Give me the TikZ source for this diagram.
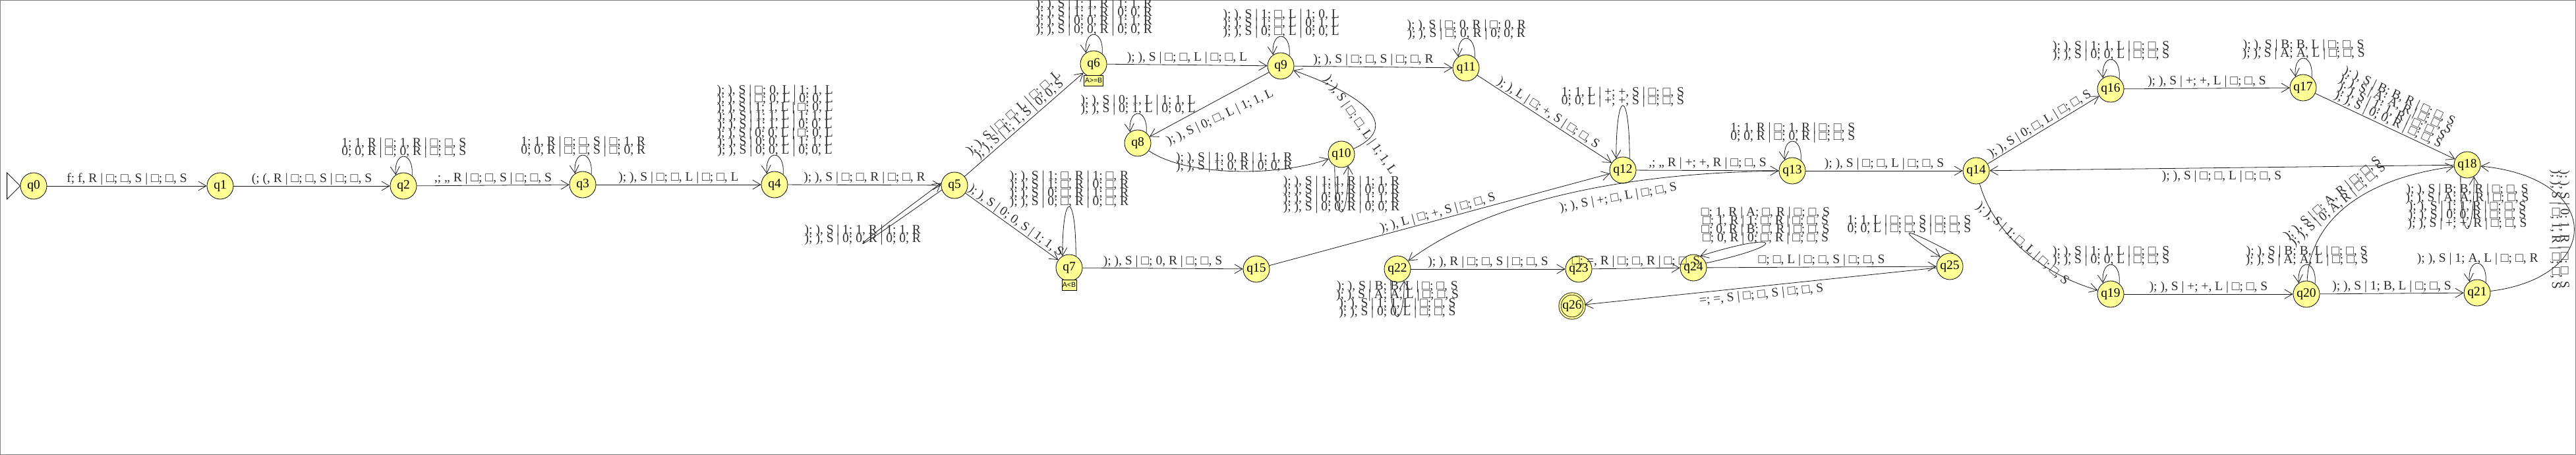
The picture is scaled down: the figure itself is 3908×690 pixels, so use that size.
\documentclass[tikz,border=0pt]{standalone}
\usepackage{fontspec}
\setmainfont{Liberation Serif}
\setsansfont{Liberation Sans}
\usetikzlibrary{arrows.meta}
\definecolor{stfill}{RGB}{255,255,150}
\definecolor{ink}{RGB}{45,45,45}

\begin{document}
\begin{tikzpicture}[x=1pt, y=-1pt,
    state/.style={circle, draw=black, line width=0.8pt, fill=stfill, minimum size=40pt,
      inner sep=0pt, font=\fontsize{19.5}{20}\selectfont},
    trans/.style={draw=black!90, line width=0.8pt,
      -{Straight Barb[length=12pt, width=14pt, line width=0.8pt]}},
    lbl/.style={font={\fontsize{19.5}{13}\selectfont\lineskiplimit=-100pt}, text=ink,
      inner sep=0pt, align=center},
    cond/.style={draw, line width=0.8pt, fill=stfill, inner sep=1pt, minimum height=16pt,
      font=\sffamily\fontsize{10.5}{11}\selectfont}]
\useasboundingbox (0,0) rectangle (3908,690);
\draw[gray, line width=1.2pt] (0.6,0.6) rectangle (3907.4,689.4);

% states
\node[state] (q0) at (51,282) {q0};
\node[state] (q1) at (334,282) {q1};
\node[state] (q2) at (612,282) {q2};
\node[state] (q3) at (884,280) {q3};
\node[state] (q4) at (1175,280) {q4};
\node[state] (q5) at (1448,281) {q5};
\node[state] (q6) at (1659,97) {q6};
\node[state] (q7) at (1622,406) {q7};
\node[state] (q8) at (1726,217) {q8};
\node[state] (q9) at (1943,100) {q9};
\node[state] (q10) at (2035,234) {q10};
\node[state] (q11) at (2224,103) {q11};
\node[state] (q12) at (2462,258) {q12};
\node[state] (q13) at (2719,259) {q13};
\node[state] (q14) at (2998,259) {q14};
\node[state] (q15) at (1906,408) {q15};
\node[state] (q16) at (3202,135) {q16};
\node[state] (q17) at (3494,133) {q17};
\node[state] (q18) at (3743,250) {q18};
\node[state] (q19) at (3202,446) {q19};
\node[state] (q20) at (3499,446) {q20};
\node[state] (q21) at (3758,444) {q21};
\node[state] (q22) at (2120,408) {q22};
\node[state] (q23) at (2395,408) {q23};
\node[state] (q24) at (2569,406) {q24};
\node[state] (q25) at (2958,404) {q25};
\node[state, double=stfill, double distance=2.5pt, minimum size=37pt] (q26) at (2385,464) {q26};

\node[cond] (c6) at (1659,122) {A>=B};
\node[cond] (c7) at (1622,432) {A<B};

% start marker
\draw[line width=0.8pt, fill=white] (q0.west) -- ++(-20,-20) -- ++(0,40) -- cycle;

% transitions
\draw[trans] (q0) -- node[lbl, above=1pt] (e0) {f; f, R | □; □, S | □; □, S} (q1);
\draw[trans] (q1) -- node[lbl, above=1pt] (e1) {(; (, R | □; □, S | □; □, S} (q2);
\draw[trans] (q2.50) .. controls +(3,-38) and +(-3,-38) .. node[lbl, above=-3pt] (e2)
  {1; 1, R | □; 1, R | □; □, S\\0; 0, R | □; 0, R | □; □, S} (q2.125);
\draw[trans] (q2) -- node[lbl, above=1pt] (e3) {,; ,, R | □; □, S | □; □, S} (q3);
\draw[trans] (q3.50) .. controls +(3,-38) and +(-3,-38) .. node[lbl, above=-3pt] (e4)
  {1; 1, R | □; □, S | □; 1, R\\0; 0, R | □; □, S | □; 0, R} (q3.125);
\draw[trans] (q3) -- node[lbl, above=1pt] (e5) {); ), S | □; □, L | □; □, L} (q4);
\draw[trans] (q4.50) .. controls +(3,-38) and +(-3,-38) .. node[lbl, above=-3pt] (e6)
  {); ), S | □; 0, L | 1; 1, L\\); ), S | □; 0, L | 0; 0, L\\); ), S | 1; 1, L | □; 0, L\\%
   ); ), S | 1; 1, L | 1; 1, L\\); ), S | 1; 1, L | 0; 0, L\\); ), S | 0; 0, L | □; 0, L\\%
   ); ), S | 0; 0, L | 1; 1, L\\); ), S | 0; 0, L | 0; 0, L} (q4.125);
\draw[trans] (q4) -- node[lbl, above=1pt] (e7) {); ), S | □; □, R | □; □, R} (q5);
\draw[trans] (q5.200) .. controls (1270,400) and (1268,396) .. node[lbl, above=-3pt] (e8)
  {); ), S | 1; 1, R | 1; 1, R\\); ), S | 0; 0, R | 0; 0, R} (q5.170);
\draw[trans] (q5) -- node[lbl, sloped, above=1pt] (e9)
  {); ), S | □; □, L | □; □, L\\); ), S | 1; 1, S | 0; 0, S} (q6);
\draw[trans] (q5) -- node[lbl, sloped, above=1pt] (e10) {); ), S | 0; 0, S | 1; 1, S} (q7);
\draw[trans] (q6.50) .. controls +(3,-38) and +(-3,-38) .. node[lbl, above=-3pt] (e11)
  {); ), S | 1; 1, R | 1; 1, R\\); ), S | 1; 1, R | 0; 0, R\\); ), S | 0; 0, R | 1; 1, R\\); ), S | 0; 0, R | 0; 0, R} (q6.125);
\draw[trans] (q7.60) .. controls +(0,-100) and +(0,-100) .. node[lbl, above=-3pt] (e12)
  {); ), S | 1; □, R | 1; □, R\\); ), S | 1; □, R | 0; □, R\\); ), S | 0; □, R | 1; □, R\\); ), S | 0; □, R | 0; □, R} (q7.120);
\draw[trans] (q6) -- node[lbl, above=1pt] (e13) {); ), S | □; □, L | □; □, L} (q9);
\draw[trans] (q7) -- node[lbl, above=1pt] (e14) {); ), S | □; 0, R | □; □, S} (q15);
\draw[trans] (q9.50) .. controls +(3,-38) and +(-3,-38) .. node[lbl, above=-3pt] (e15)
  {); ), S | 1; □, L | 1; 0, L\\); ), S | 1; □, L | 0; 1, L\\); ), S | 0; □, L | 0; 0, L} (q9.125);
\draw[trans] (q9) -- (q8);
\node[lbl, rotate=25] (e16) at (1851,178) {); ), S | 0; □, L | 1; 1, L};
\draw[trans] (q8.50) .. controls +(3,-38) and +(-3,-38) .. node[lbl, above=-3pt] (e17)
  {); ), S | 0; 1, L | 1; 1, L\\); ), S | 0; 1, L | 0; 0, L} (q8.125);
\draw[trans] (q8) .. controls (1800,268) and (1940,268) .. node[lbl, above=-2pt] (e18)
  {); ), S | 1; 0, R | 1; 1, R\\); ), S | 1; 0, R | 0; 0, R} (q10);
\draw[trans] (q10) .. controls (2120,195) and (2085,150) .. (q9);
\node[lbl, rotate=-55] (e19) at (2063,190) {); ), S | □; □, L | 1; 1, L};
\draw[trans] (q10.-120) .. controls +(0,93) and +(0,93) .. node[lbl, above=-3pt] (e20)
  {); ), S | 1; 1, R | 1; 1, R\\); ), S | 1; 1, R | 0; 0, R\\); ), S | 0; 0, R | 1; 1, R\\); ), S | 0; 0, R | 0; 0, R} (q10.-60);
\draw[trans] (q9) -- node[lbl, above=1pt] (e21) {); ), S | □; □, S | □; □, R} (q11);
\draw[trans] (q11.50) .. controls +(3,-38) and +(-3,-38) .. node[lbl, above=-3pt] (e22)
  {); ), S | □; 0, R | □; 0, R\\); ), S | □; 0, R | 0; 0, R} (q11.125);
\draw[trans] (q11) -- node[lbl, sloped, above=1pt] (e23) {); ), L | □; +, S | □; □, S} (q12);
\draw[trans] (q15) -- node[lbl, sloped, above=1pt] (e24) {); ), L | □; +, S | □; □, S} (q12);
\draw[trans] (q12.60) .. controls +(0,-107) and +(0,-107) .. node[lbl, above=-3pt] (e25)
  {1; 1, L | +; +, S | □; □, S\\0; 0, L | +; +, S | □; □, S} (q12.120);
\draw[trans] (q12) -- node[lbl, above=1pt] (e26) {,; ,, R | +; +, R | □; □, S} (q13);
\draw[trans] (q13.50) .. controls +(3,-38) and +(-3,-38) .. node[lbl, above=-3pt] (e27)
  {1; 1, R | □; 1, R | □; □, S\\0; 0, R | □; 0, R | □; □, S} (q13.125);
\draw[trans] (q13) .. controls (2450,262) and (2250,310) .. (q22);
\node[lbl, rotate=10] (e28) at (2455,300) {); ), S | +; □, L | □; □, S};
\draw[trans] (q13) -- node[lbl, above=1pt] (e29) {); ), S | □; □, L | □; □, S} (q14);
\draw[trans] (q14) -- node[lbl, sloped, above=1pt] (e30) {); ), S | 0; □, L | □; □, S} (q16);
\draw[trans] (q16.50) .. controls +(3,-38) and +(-3,-38) .. node[lbl, above=-3pt] (e31)
  {); ), S | 1; 1, L | □; □, S\\); ), S | 0; 0, L | □; □, S} (q16.125);
\draw[trans] (q16) -- node[lbl, above=1pt] (e32) {); ), S | +; +, L | □; □, S} (q17);
\draw[trans] (q17.50) .. controls +(3,-38) and +(-3,-38) .. node[lbl, above=-3pt] (e33)
  {); ), S | B; B, L | □; □, S\\); ), S | A; A, L | □; □, S} (q17.125);
\draw[trans] (q17) -- node[lbl, sloped, above=1pt] (e34)
  {); ), S | B; B, R | □; □, S\\); ), S | A; A, R | □; □, S\\); ), S | 1; 1, R | □; □, S\\); ), S | 0; 0, R | □; □, S} (q18);
\draw[trans] (q18) -- node[lbl, below=4pt] (e35) {); ), S | □; □, L | □; □, S} (q14);
\draw[trans] (q18.-120) .. controls +(0,105) and +(0,105) .. node[lbl, above=-3pt] (e36)
  {); ), S | B; B, R | □; □, S\\); ), S | A; A, R | □; □, S\\); ), S | 1; 1, R | □; □, S\\); ), S | 0; 0, R | □; □, S\\); ), S | +; +, R | □; □, S} (q18.-60);
\draw[trans] (q14) .. controls (3020,340) and (3080,410) .. (q19);
\node[lbl, rotate=-41] (e37) at (3068,370) {); ), S | 1; □, L | □; □, S};
\draw[trans] (q19.50) .. controls +(3,-38) and +(-3,-38) .. node[lbl, above=-3pt] (e38)
  {); ), S | 1; 1, L | □; □, S\\); ), S | 0; 0, L | □; □, S} (q19.125);
\draw[trans] (q19) -- node[lbl, above=1pt] (e39) {); ), S | +; +, L | □; □, S} (q20);
\draw[trans] (q20.50) .. controls +(3,-38) and +(-3,-38) .. node[lbl, above=-3pt] (e40)
  {); ), S | B; B, L | □; □, S\\); ), S | A; A, L | □; □, S} (q20.125);
\draw[trans] (q20) -- node[lbl, above=1pt] (e41) {); ), S | 1; B, L | □; □, S} (q21);
\draw[trans] (q21.50) .. controls +(3,-38) and +(-3,-38) .. node[lbl, above=-3pt] (e42)
  {); ), S | 1; A, L | □; □, R} (q21.125);
\draw[trans] (q20) .. controls (3505,330) and (3590,270) .. (q18);
\node[lbl, rotate=40] (e43) at (3543,306) {); ), S | □; A, R | □; □, S\\); ), S | 0; A, R | □; □, S};
\draw[trans] (q21) .. controls (3950,420) and (3950,270) .. (q18);
\node[lbl, rotate=-90] (e44) at (3883,348) {); ), S | 0; 1, R | □; □, S\\); ), S | □; 1, R | □; □, S};
\draw[trans] (q22.-120) .. controls +(0,72) and +(0,72) .. node[lbl, above=-3pt] (e45)
  {); ), S | B; B, L | □; □, S\\); ), S | A; A, L | □; □, S\\); ), S | 1; 1, L | □; □, S\\); ), S | 0; 0, L | □; □, S} (q22.-60);
\draw[trans] (q22) -- node[lbl, above=1pt] (e46) {); ), R | □; □, S | □; □, S} (q23);
\draw[trans] (q23) -- node[lbl, above=1pt] (e47) {□; =, R | □; □, R | □; □, S} (q24);
\draw[trans] (q24.20) .. controls (2720,370) and (2700,350) .. node[lbl, above=-3pt] (e48)
  {□; 1, R | A; □, R | □; □, S\\□; 1, R | 1; □, R | □; □, S\\□; 0, R | B; □, R | □; □, S\\□; 0, R | 0; □, R | □; □, S} (q24.60);
\draw[trans] (q24) -- node[lbl, above=1pt] (e49) {□; □, L | □; □, S | □; □, S} (q25);
\draw[trans] (q25.75) .. controls (2880,340) and (2875,345) .. node[lbl, above=-3pt] (e50)
  {1; 1, L | □; □, S | □; □, S\\0; 0, L | □; □, S | □; □, S} (q25.135);
\draw[trans] (q25) -- node[lbl, sloped, below=4pt] (e51) {=; =, S | □; □, S | □; □, S} (q26);
\end{tikzpicture}
\end{document}
